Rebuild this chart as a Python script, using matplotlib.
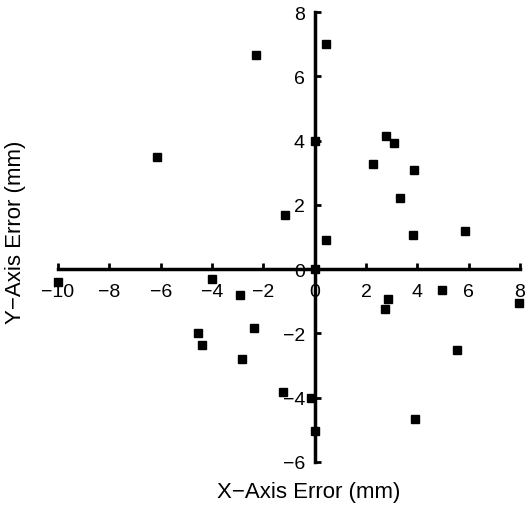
import numpy as np
import matplotlib
matplotlib.use("Agg")
import matplotlib.pyplot as plt

plt.rcParams['font.family'] = ['Liberation Sans', 'DejaVu Sans']

# x and y errors (mm)
x_err = np.array([-6.15, -2.3, -1.15, 0.45, 0.43, 0.0, 2.77, 3.08, 2.26, 3.86,
                  3.31, 3.82, 5.84,
                  -10.0, -4.0, -2.92, -4.56, -4.4, -2.38, -2.84, -1.25, -0.15,
                  0.0, 2.84, 2.73, 4.95, 7.95, 5.53, 3.9, 0.0])
y_err = np.array([3.5, 6.65, 1.7, 7.0, 0.9, 4.0, 4.14, 3.92, 3.27, 3.08,
                  2.21, 1.06, 1.18,
                  -0.4, -0.3, -0.81, -2.0, -2.37, -1.84, -2.8, -3.83, -4.0,
                  -5.05, -0.93, -1.25, -0.65, -1.06, -2.52, -4.67, 0.0])

x_ticks = [-10, -8, -6, -4, -2, 0, 2, 4, 6, 8]
y_ticks = [-6, -4, -2, 0, 2, 4, 6, 8]

fig = plt.figure(figsize=(5.28, 5.06), dpi=100)
ax = fig.add_axes([58/528, 1 - 463/506, 462/528, 450/506])

ax.plot(x_err, y_err, 's', color='black', ms=5.8, clip_on=False, zorder=3)

ax.set_xlim(-10, 8)
ax.set_ylim(-6, 8)

ax.spines['left'].set_position(('data', 0))
ax.spines['bottom'].set_position(('data', 0))
ax.spines['right'].set_visible(False)
ax.spines['top'].set_visible(False)
for s in ['left', 'bottom']:
    ax.spines[s].set_linewidth(2.5)

ax.set_xticks(x_ticks)
ax.set_yticks(y_ticks)
fmt = plt.FuncFormatter(lambda v, p: str(int(v)).replace('-', '\u2212'))
ax.xaxis.set_major_formatter(fmt)
ax.yaxis.set_major_formatter(fmt)
ax.tick_params(axis='x', direction='in', length=4, width=2, pad=10, labelsize=14)
ax.tick_params(axis='y', direction='in', length=4, width=2, pad=7, labelsize=14)

ax.patch.set_visible(False)

fig.text(309/528, 1 - 493/506, 'X\u2212Axis Error (mm)', ha='center', va='center', fontsize=16)
fig.text(16/528, 1 - 232/506, 'Y\u2212Axis Error (mm)', ha='center', va='center',
         fontsize=16, rotation=90)

fig.savefig('out.png', dpi=100)
